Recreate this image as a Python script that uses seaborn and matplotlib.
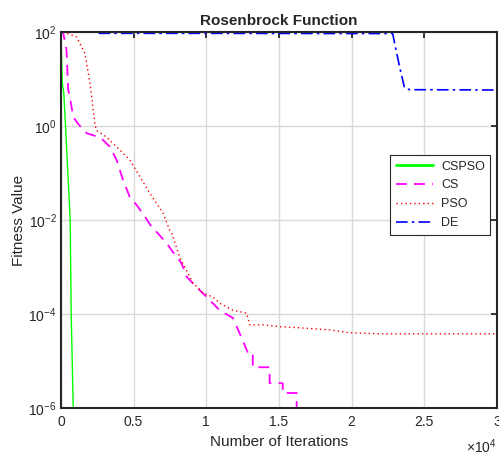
import numpy as np
import pandas as pd
import matplotlib
matplotlib.use("Agg")
import matplotlib.pyplot as plt
from matplotlib.ticker import FuncFormatter
import seaborn as sns

# ---- data ----
cspso_iter = [0, 100, 200, 320, 640, 710, 850, 950]
cspso_val = [100, 8, 5, 1.0, 1e-2, 1e-4, 1e-6, 1e-8]

cs_iter = [0, 160, 390, 500, 620, 850, 1190, 1770, 2450, 2900, 3370, 3830, 4280,
           4740, 5200, 5770, 6240, 6600, 7280, 7700, 8300, 8650, 9350, 10030,
           10930, 11840, 12500, 12860, 13200, 13200, 14360, 14360, 15260, 15260,
           16220, 16220]
cs_val = [110, 95, 41, 5.9, 4.1, 1.55, 1.1, 0.7, 0.6, 0.5, 0.36, 0.19, 0.07,
          0.031, 0.021, 0.012, 0.0071, 5.5e-3, 3.2e-3, 2.1e-3, 1.2e-3, 6.2e-4,
          3.7e-4, 2.3e-4, 1.2e-4, 8.2e-5, 2.8e-5, 1.5e-5, 1.5e-5, 7.4e-6, 7.4e-6,
          3.4e-6, 3.4e-6, 2.1e-6, 2.1e-6, 5e-7]

pso_iter = [0, 150, 1080, 1650, 2000, 2340, 2450, 3140, 3830, 4740, 5200, 6120,
            7030, 7490, 7600, 8180, 9080, 9780, 10460, 10930, 11840, 12770,
            12990, 13890, 15050, 16430, 18490, 19860, 22130, 24450, 30000]
pso_val = [120, 100, 78, 35, 8.2, 1.1, 0.8, 0.58, 0.36, 0.19, 0.11, 0.037,
           0.014, 6e-3, 5.5e-3, 1.6e-3, 4.6e-4, 2.8e-4, 2.3e-4, 1.7e-4, 1.2e-4,
           1.05e-4, 5.9e-5, 5.9e-5, 5.4e-5, 5.1e-5, 4.6e-5, 4.0e-5, 3.8e-5,
           3.8e-5, 3.8e-5]

de_iter = [0, 2400, 10000, 20000, 22820, 23300, 23640, 23990, 30000]
de_val = [1000, 93, 93, 92, 92, 18, 6.4, 5.9, 5.8]

series_names = ["CSPSO", "CS", "PSO", "DE"]
colors = ["#00ff00", "#ff00ff", "#ff0000", "#0000ff"]

x_ticks = [0, 5000, 10000, 15000, 20000, 25000, 30000]
y_ticks = [1e-6, 1e-4, 1e-2, 1e0, 1e2]

# ---- plotting ----
sns.set_theme(style="white")
plt.rcParams["font.family"] = ["Liberation Sans", "DejaVu Sans"]
plt.rcParams["mathtext.fontset"] = "custom"
plt.rcParams["mathtext.rm"] = "Liberation Sans"
plt.rcParams["mathtext.it"] = "Liberation Sans:italic"
plt.rcParams["axes.unicode_minus"] = False

TXT = "#262626"
fig = plt.figure(figsize=(4.99, 4.55), dpi=100)
ax = fig.add_axes([0.122, 0.103, 0.874, 0.827])

data = [(cspso_iter, cspso_val), (cs_iter, cs_val), (pso_iter, pso_val), (de_iter, de_val)]
styles = [dict(linestyle="-", linewidth=1.0),
          dict(linestyle=(0, (6, 4)), linewidth=1.3),
          dict(linestyle=(0, (1, 2.2)), linewidth=1.0),
          dict(linestyle=(0, (7, 2.5, 1.5, 2.5)), linewidth=1.2)]

for name, (xs, ys), col, st in zip(series_names, data, colors, styles):
    df = pd.DataFrame({"iter": xs, "val": ys})
    sns.lineplot(data=df, x="iter", y="val", ax=ax, color=col, label=name,
                 estimator=None, sort=False, **st)

ax.set_yscale("log")
ax.set_ylim(1e-6, 1e2)
ax.set_xlim(0, 30000)
ax.set_xticks(x_ticks)
ax.set_yticks(y_ticks)
ax.yaxis.set_minor_locator(plt.NullLocator())
ax.set_yticklabels([r"$\mathdefault{10^{%d}}$" % int(np.log10(v)) for v in y_ticks])
ax.xaxis.set_major_formatter(FuncFormatter(lambda v, p: "%g" % (v / 1e4)))

ax.grid(True, color="#d9d9d9", linewidth=1.0)
ax.set_axisbelow(True)
for sp in ax.spines.values():
    sp.set_visible(True)
    sp.set_color(TXT)
    sp.set_linewidth(1.5)
ax.tick_params(axis="both", which="both", direction="in", top=True, right=True,
               length=4, width=1.3, color=TXT, labelsize=10,
               labelcolor=TXT)
ax.tick_params(axis="x", pad=5)
ax.tick_params(axis="y", pad=3)

# x-axis multiplier
ax.text(1.0, -0.077, r"$\times\mathdefault{10^{4}}$", transform=ax.transAxes,
        ha="right", va="top", fontsize=10, color=TXT)

ax.set_title("Rosenbrock Function", fontsize=11, fontweight="bold", pad=5)
ax.set_xlabel("Number of Iterations", fontsize=11, color=TXT, labelpad=4)
ax.set_ylabel("Fitness Value", fontsize=11, color=TXT, labelpad=2)

leg = ax.legend(loc="upper right", bbox_to_anchor=(0.985, 0.673), fontsize=9,
                frameon=True, fancybox=False, edgecolor=TXT,
                framealpha=1, borderpad=0.45, labelspacing=0.55,
                handlelength=3.0, handletextpad=0.6, borderaxespad=0)
leg.get_frame().set_linewidth(0.8)
leg.legend_handles[0].set_linewidth(2.0)

fig.savefig("out.png", dpi=100)
